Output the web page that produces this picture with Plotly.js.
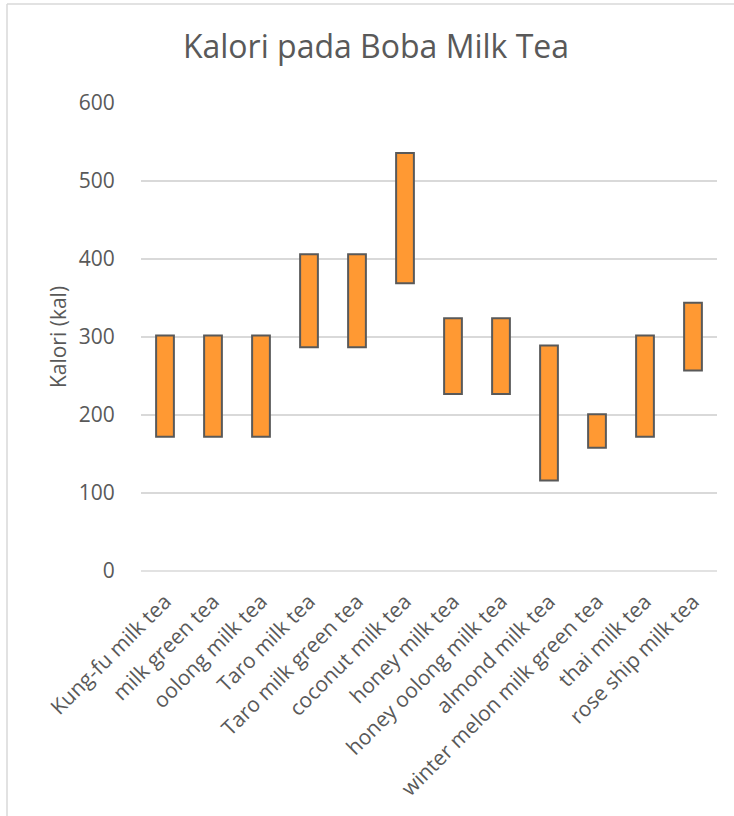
<!DOCTYPE html>
<html>
<head>
<meta charset="utf-8">
<script src="https://cdn.plot.ly/plotly-3.0.1.min.js"></script>
<style>
  html, body { margin: 0; padding: 0; background: #ffffff; }
  #chart { width: 734px; height: 816px; }
</style>
</head>
<body>
<div id="chart"></div>
<script>
// Data (kcal ranges)
const categories = [
  "Kung-fu milk tea", "milk green tea", "oolong milk tea", "Taro milk tea",
  "Taro milk green tea", "coconut milk tea", "honey milk tea", "honey oolong milk tea",
  "almond milk tea", "winter melon milk green tea", "thai milk tea", "rose ship milk tea"
];
const lowValues  = [172, 172, 172, 287, 287, 369, 227, 227, 116, 158, 172, 257];
const highValues = [302, 302, 302, 406, 406, 536, 324, 324, 289, 201, 302, 344];
const yTicks = [0, 100, 200, 300, 400, 500, 600];

const spans = highValues.map((h, i) => h - lowValues[i]);

const FONT = '"Open Sans", "Noto Sans", sans-serif';
const TXT = '#595959';

const trace = {
  type: 'bar',
  x: categories,
  y: spans,
  base: lowValues,
  width: 0.37,
  marker: { color: '#FF9933', line: { color: '#595959', width: 2 } },
  hoverinfo: 'skip'
};

// plot area in pixels: x 141..717, y 103..571
const L = 141, R = 17, T = 103, B = 245, W = 734, H = 816;
const pw = W - L - R, ph = H - T - B;
const px = v => (v - L) / pw;
const py = v => (H - B - v) / ph;

const layout = {
  width: W, height: H,
  margin: { l: L, r: R, t: T, b: B, pad: 0 },
  paper_bgcolor: '#ffffff',
  plot_bgcolor: '#ffffff',
  showlegend: false,
  font: { family: FONT, color: TXT },
  title: {
    text: 'Kalori pada Boba Milk Tea',
    font: { family: FONT, size: 32, color: TXT },
    xref: 'paper', x: px(376), xanchor: 'center',
    yref: 'container', y: 1 - 47 / H, yanchor: 'middle'
  },
  xaxis: {
    type: 'category',
    tickangle: -45,
    tickfont: { family: FONT, size: 21, color: TXT },
    showgrid: false, zeroline: false, showline: false,
    ticks: 'outside', ticklen: 9, tickcolor: 'rgba(0,0,0,0)',
    automargin: false
  },
  yaxis: {
    range: [0, 600],
    tickvals: yTicks,
    ticktext: yTicks.map(String),
    tickfont: { family: FONT, size: 21, color: TXT },
    showgrid: true, gridcolor: '#D9D9D9', gridwidth: 1.5,
    zeroline: false, showline: false,
    ticks: 'outside', ticklen: 21, tickcolor: 'rgba(0,0,0,0)',
    title: { text: 'Kalori (kal)', font: { family: FONT, size: 21, color: TXT }, standoff: 6 },
    automargin: false
  },
  shapes: [
    { type: 'line', xref: 'paper', yref: 'paper', x0: px(7), x1: px(7), y0: py(4), y1: py(820),
      line: { color: '#D9D9D9', width: 1.5 } },
    { type: 'line', xref: 'paper', yref: 'paper', x0: px(7), x1: px(740), y0: py(4), y1: py(4),
      line: { color: '#D9D9D9', width: 1.5 } },
    { type: 'line', xref: 'paper', yref: 'paper', x0: 0, x1: 1, y0: 0, y1: 0, layer: 'below',
      line: { color: '#D9D9D9', width: 1.5 } }
  ]
};

Plotly.newPlot('chart', [trace], layout, { displayModeBar: false, staticPlot: true });
</script>
</body>
</html>
